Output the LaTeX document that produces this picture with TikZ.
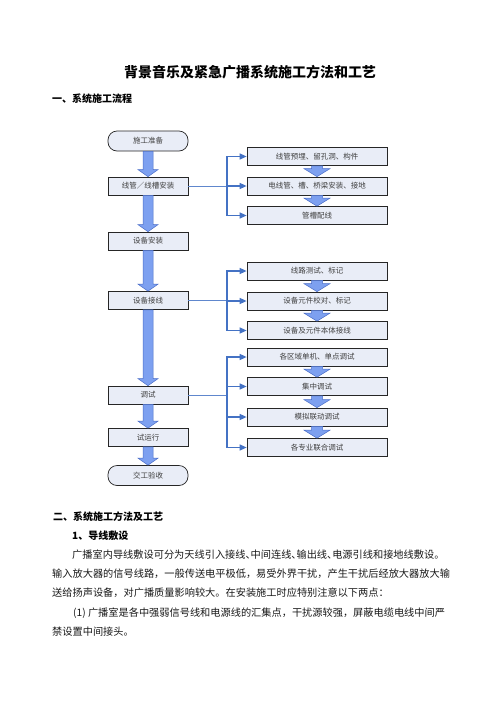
\documentclass[tikz,border=0pt]{standalone}
\usepackage{fontspec}
\setmainfont{Noto Sans CJK SC}
\usetikzlibrary{arrows.meta,calc}
\definecolor{boxfill}{RGB}{233,237,247}
\definecolor{barfill}{RGB}{125,160,240}
\definecolor{bardraw}{RGB}{75,110,200}
\definecolor{linkc}{RGB}{68,114,196}
\newcommand\hw[1]{\makebox[0.5em][l]{#1}}
\newcommand\blockarr[5]{%
  \fill[barfill,draw=bardraw,line width=0.5pt] let \p1=(#1.south), \p2=(#2.north) in
  (\x1-#3,\y1) -- (\x1-#3,\y2+#5) -- (\x1-#4,\y2+#5) -- (\x1,\y2) -- (\x1+#4,\y2+#5) -- (\x1+#3,\y2+#5) -- (\x1+#3,\y1) -- cycle;}
\tikzset{
  lbox/.style={draw=black!85, line width=0.7pt, fill=boxfill, minimum width=80pt, minimum height=18pt, inner sep=0pt, font=\fontsize{7.5}{9}\selectfont, text=black!75},
  rbox/.style={lbox, minimum width=140pt},
  tbox/.style={lbox, rounded corners=9pt, minimum height=20pt},
  trunk/.style={draw=linkc!85, line width=0.8pt},
  branch/.style={draw=linkc, line width=1.3pt, -{Triangle[length=7pt,width=6pt]}},
  txt/.style={anchor=west, inner sep=0pt, font=\fontsize{10.2}{12}\selectfont, text=black!90},
  head/.style={anchor=west, inner sep=0pt, font=\fontsize{10}{12}\selectfont\bfseries}
}
\begin{document}
\begin{tikzpicture}[x=1pt,y=-1pt]
\useasboundingbox[fill=white] (0,0) rectangle (496,702);
\node[inner sep=0pt, font=\fontsize{14}{16}\selectfont\bfseries] (title) at (250,72) {背景音乐及紧急广播系统施工方法和工艺};
\node[head] (h1) at (52,99) {一、系统施工流程};
% left column
\node[tbox] (prep) at (148,141) {施工准备};
\node[lbox] (pipe) at (148,186) {线管／线槽安装};
\node[lbox] (equip) at (148,241) {设备安装};
\node[lbox] (wire) at (148,300.5) {设备接线};
\node[lbox] (debug) at (148,395) {调试};
\node[lbox] (trial) at (148,437.5) {试运行};
\node[tbox] (accept) at (148,475.5) {交工验收};
% right column
\node[rbox] (r1) at (317,156.5) {线管预埋、留孔洞、构件};
\node[rbox] (r2) at (317,186) {电线管、槽、桥梁安装、接地};
\node[rbox] (r3) at (317,215.5) {管槽配线};
\node[rbox] (r4) at (317,271) {线路测试、标记};
\node[rbox] (r5) at (317,301) {设备元件校对、标记};
\node[rbox] (r6) at (317,330.5) {设备及元件本体接线};
\node[rbox] (r7) at (317,357) {各区域单机、单点调试};
\node[rbox] (r8) at (317,386.5) {集中调试};
\node[rbox] (r9) at (317,417) {模拟联动调试};
\node[rbox] (r10) at (317,447.5) {各专业联合调试};
% block arrows
\blockarr{prep}{pipe}{5pt}{10pt}{7pt}
\blockarr{pipe}{equip}{5pt}{10pt}{7pt}
\blockarr{equip}{wire}{5pt}{10pt}{7pt}
\blockarr{wire}{debug}{5pt}{10pt}{7pt}
\blockarr{debug}{trial}{5pt}{10pt}{7pt}
\blockarr{trial}{accept}{5pt}{10pt}{7pt}
\blockarr{r1}{r2}{5.5pt}{13pt}{8pt}
\blockarr{r2}{r3}{5.5pt}{13pt}{8pt}
\blockarr{r4}{r5}{5.5pt}{13pt}{8pt}
\blockarr{r5}{r6}{5.5pt}{13pt}{8pt}
\blockarr{r7}{r8}{5.5pt}{13pt}{8pt}
\blockarr{r8}{r9}{5.5pt}{13pt}{8pt}
\blockarr{r9}{r10}{5.5pt}{13pt}{8pt}
% connectors
\coordinate (j1) at (227,186);
\coordinate (j2) at (227,300.5);
\coordinate (j3) at (227,395);
\draw[trunk] (pipe.east) -- (j1);
\draw[branch] (j1) |- (r1.west);
\draw[branch] (j1) -- (r2.west);
\draw[branch] (j1) |- (r3.west);
\draw[trunk] (wire.east) -- (j2);
\draw[branch] (j2) |- (r4.west);
\draw[branch] (j2) |- (r5.west);
\draw[branch] (j2) |- (r6.west);
\draw[trunk] (debug.east) -- (j3);
\draw[branch] (j3) |- (r7.west);
\draw[branch] (j3) |- (r8.west);
\draw[branch] (j3) |- (r9.west);
\draw[branch] (j3) |- (r10.west);
% text below
\node[head] (h2) at (53,517) {二、系统施工方法及工艺};
\node[head] (h3) at (72,536) {1、导线敷设};
\node[txt] (l1) at (72,555) {广播室内导线敷设可分为天线引入接线\hw{、}中间连线\hw{、}输出线\hw{、}电源引线和接地线敷设。};
\node[txt] (l2) at (52,574) {输入放大器的信号线路，一般传送电平极低，易受外界干扰，产生干扰后经放大器放大输};
\node[txt] (l3) at (52,593) {送给扬声设备，对广播质量影响较大。在安装施工时应特别注意以下两点：};
\node[txt] (l4) at (73,613) {(1) 广播室是各中强弱信号线和电源线的汇集点，干扰源较强，屏蔽电缆电线中间严};
\node[txt] (l5) at (52,632) {禁设置中间接头。};
\end{tikzpicture}
\end{document}
